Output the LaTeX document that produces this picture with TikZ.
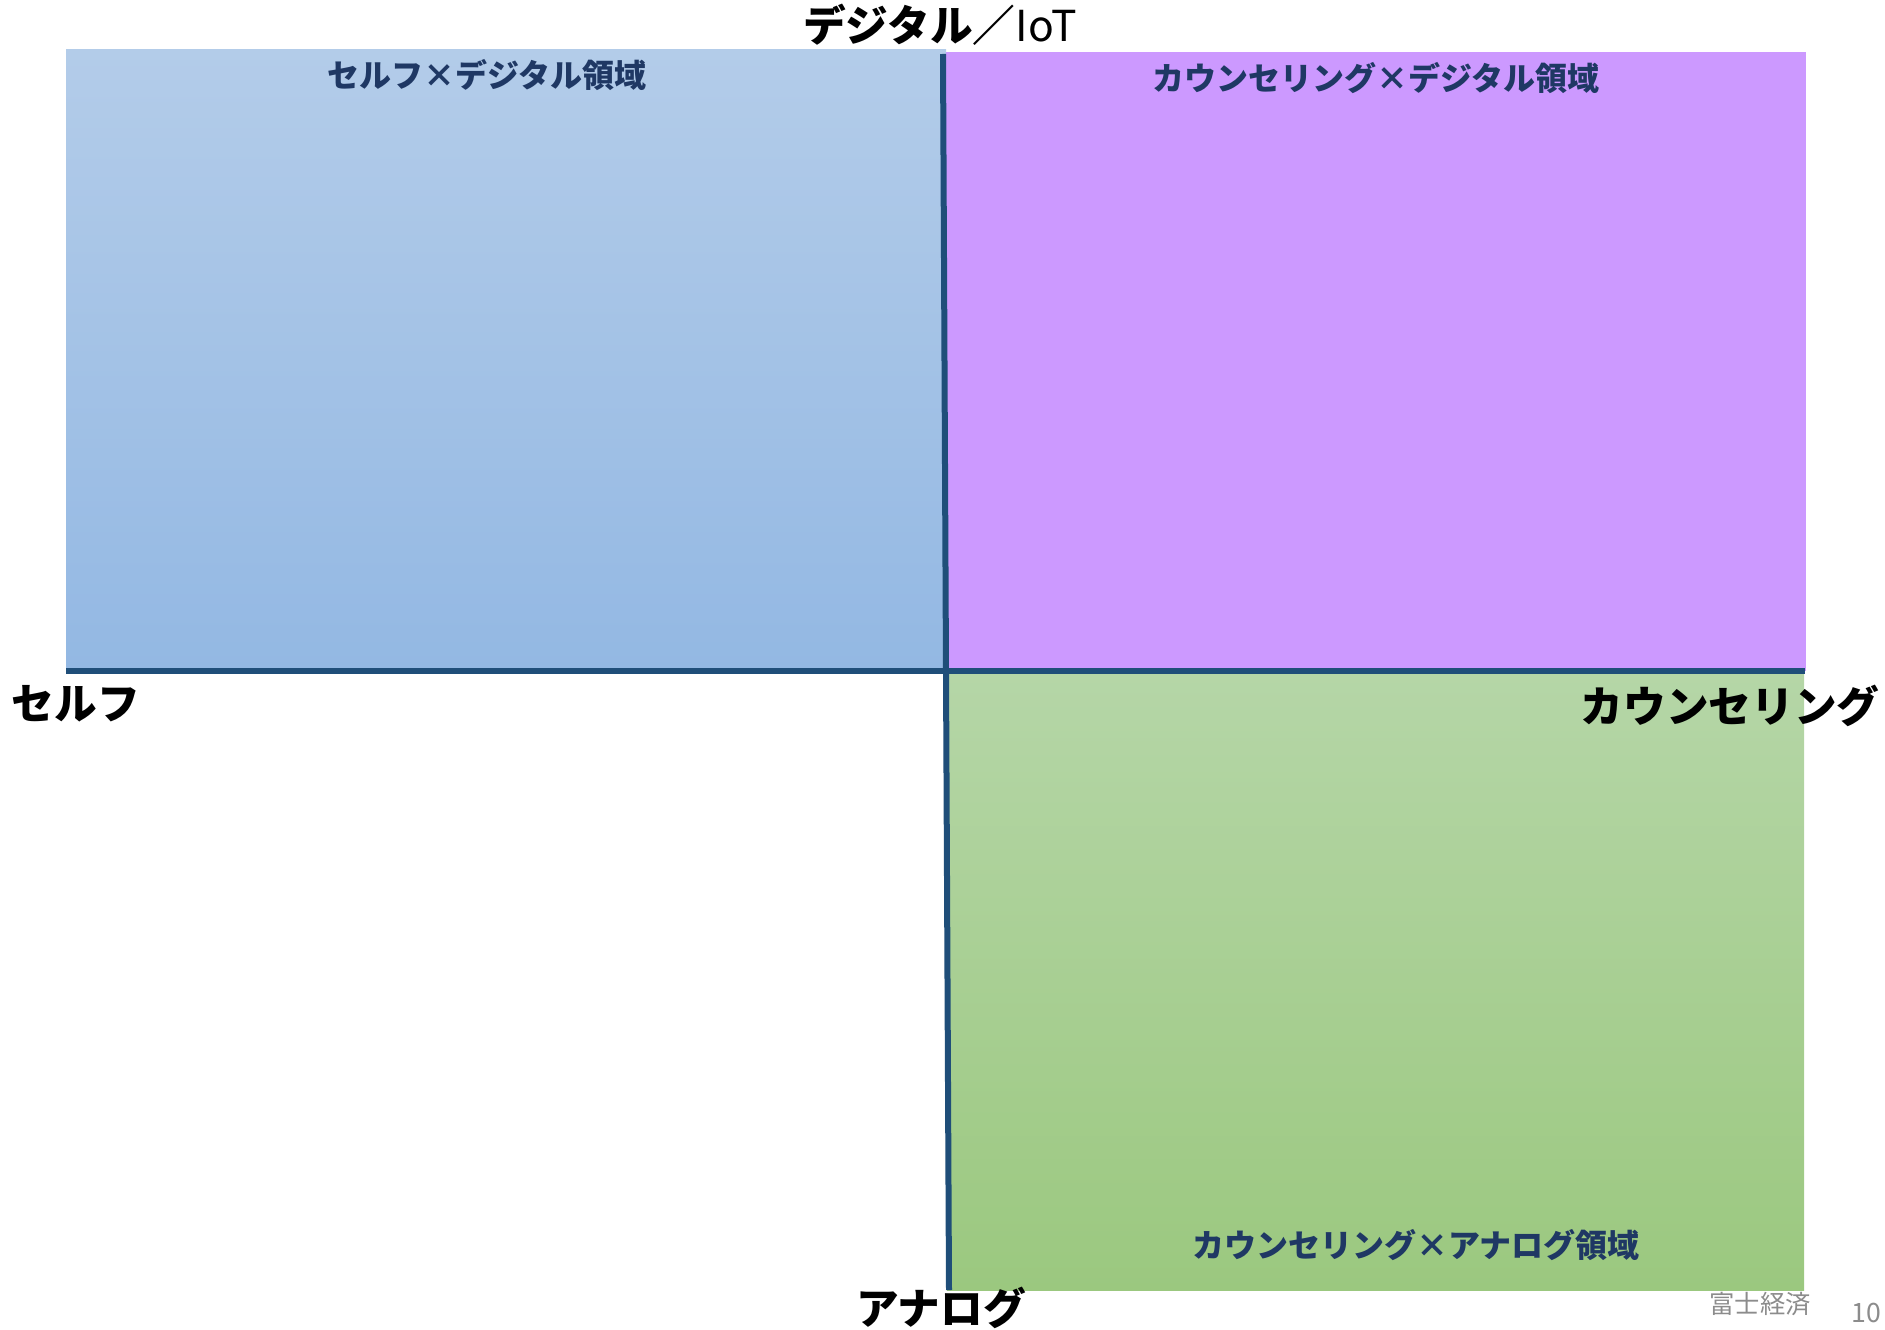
\documentclass[tikz,border=0pt]{standalone}
\usepackage{fontspec}
\setmainfont{Noto Sans CJK JP}
\definecolor{axisc}{HTML}{1F4E79}
\definecolor{labc}{HTML}{1F3864}
\definecolor{blueT}{HTML}{B3CCE9}
\definecolor{blueB}{HTML}{93B8E3}
\definecolor{purp}{HTML}{CC99FF}
\definecolor{greenT}{HTML}{B5D6A7}
\definecolor{greenB}{HTML}{9BC87F}
\begin{document}
\begin{tikzpicture}[x=0.75pt,y=-0.75pt,
  axisline/.style={draw=axisc,line width=4.5pt},
  axlabel/.style={font=\fontsize{32}{34}\selectfont\bfseries,text=black,inner sep=0pt},
  qlabel/.style={font=\fontsize{24}{26}\selectfont\bfseries,text=labc,inner sep=0pt},
  foot/.style={font=\fontsize{19}{21}\selectfont,text=black!45,inner sep=0pt}]
\useasboundingbox (0,0) rectangle (1885,1330);
% quadrants
\shade[top color=blueT,bottom color=blueB] (66,50) rectangle (946,671);
\fill[purp] (946,52) rectangle (1806,671);
\shade[top color=greenT,bottom color=greenB] (947,671) rectangle (1804,1290);
% axes
\coordinate (hl) at (66,671);
\coordinate (hr) at (1805,671);
\coordinate (vt) at (943,54);
\coordinate (vb) at (949,1290);
\draw[axisline] (hl) -- (hr);
\draw[axisline] (vt) -- (vb);
% axis labels
\node[axlabel] (top) at (940,25) {デジタル／{\mdseries IoT}};
\node[axlabel] (left) at (76,704) {セルフ};
\node[axlabel] (right) at (1730,706) {カウンセリング};
\node[axlabel] (bottom) at (941,1308) {アナログ};
% quadrant labels
\node[qlabel] (q1) at (487,75) {セルフ×デジタル領域};
\node[qlabel] (q2) at (1376,78) {カウンセリング×デジタル領域};
\node[qlabel] (q3) at (1416,1245) {カウンセリング×アナログ領域};
% footer
\node[foot] (src) at (1760,1304) {富士経済};
\node[foot,font=\fontsize{20}{22}\selectfont] (pg) at (1866,1313) {10};
\end{tikzpicture}
\end{document}
